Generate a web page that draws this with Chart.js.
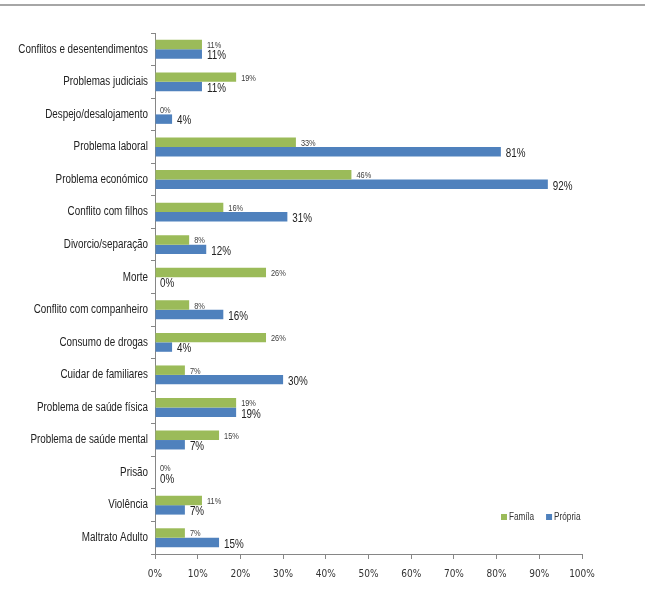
<!DOCTYPE html>
<html>
<head>
<meta charset="utf-8">
<script src="https://cdn.jsdelivr.net/npm/chart.js@4/dist/chart.umd.min.js"></script>
<style>
  html, body { margin: 0; padding: 0; background: #fff; }
  #wrap { position: relative; width: 645px; height: 594px; }
  #topline { position: absolute; left: 0; top: 4px; width: 645px; height: 2px; background: #a6a6a6; }
  canvas { position: absolute; left: 0; top: 0; }
</style>
</head>
<body>
<div id="wrap">
  <canvas id="grafico" width="645" height="594"></canvas>
  <div id="topline"></div>
</div>
<script>
// categorias de cima para baixo
const categorias = [
  "Conflitos e desentendimentos",
  "Problemas judiciais",
  "Despejo/desalojamento",
  "Problema laboral",
  "Problema económico",
  "Conflito com filhos",
  "Divorcio/separação",
  "Morte",
  "Conflito com companheiro",
  "Consumo de drogas",
  "Cuidar de familiares",
  "Problema de saúde física",
  "Problema de saúde mental",
  "Prisão",
  "Violência",
  "Maltrato Adulto"
];
const familia = [11, 19, 0, 33, 46, 16, 8, 26, 8, 26, 7, 19, 15, 0, 11, 7];
const propria = [11, 11, 4, 81, 92, 31, 12, 0, 16, 4, 30, 19, 7, 0, 7, 15];
const ticksX = [0, 10, 20, 30, 40, 50, 60, 70, 80, 90, 100];

const fonte = "'Liberation Sans', Arial, sans-serif";
const corFamilia = "#9bbb59";
const corPropria = "#4f81bd";
const aperto = 0.82; // compressão horizontal para imitar a Calibri

// escreve texto estreitado horizontalmente
function textoEstreito(ctx, txt, x, y, align) {
  ctx.save();
  ctx.translate(x, y);
  ctx.scale(aperto, 1);
  ctx.textAlign = align;
  ctx.fillText(txt, 0, 0);
  ctx.restore();
}

// nomes das categorias no eixo vertical
const rotulosY = {
  id: "rotulosY",
  afterDraw(chart) {
    const ctx = chart.ctx;
    const y = chart.scales.y;
    ctx.save();
    ctx.font = "12px " + fonte;
    ctx.fillStyle = "#222";
    ctx.textBaseline = "middle";
    categorias.forEach(function (c, i) {
      textoEstreito(ctx, c, y.right - 7, y.getPixelForValue(i), "right");
    });
    ctx.restore();
  }
};

// etiquetas de valor à direita de cada barra
const etiquetas = {
  id: "etiquetas",
  afterDatasetsDraw(chart) {
    const ctx = chart.ctx;
    ctx.save();
    ctx.textBaseline = "middle";
    chart.data.datasets.forEach(function (ds, i) {
      const meta = chart.getDatasetMeta(i);
      ctx.font = (i === 0 ? "9px " : "12px ") + fonte;
      ctx.fillStyle = i === 0 ? "#404040" : "#222";
      meta.data.forEach(function (bar, j) {
        textoEstreito(ctx, ds.data[j] + "%", bar.x + 5, bar.y + (i === 0 ? 1 : 2), "left");
      });
    });
    ctx.restore();
  }
};

// legenda dentro da área do gráfico, em baixo à direita
const legenda = {
  id: "legenda",
  afterDraw(chart) {
    const ctx = chart.ctx;
    const area = chart.chartArea;
    ctx.save();
    ctx.font = "10px " + fonte;
    ctx.textBaseline = "middle";
    let x = area.right - 81;
    const y = area.bottom - 37;
    chart.data.datasets.forEach(function (ds) {
      ctx.fillStyle = ds.backgroundColor;
      ctx.fillRect(x, y - 3, 6, 6);
      ctx.fillStyle = "#333";
      textoEstreito(ctx, ds.label, x + 8, y, "left");
      x += ctx.measureText(ds.label).width * aperto + 20;
    });
    ctx.restore();
  }
};

const ctx = document.getElementById("grafico").getContext("2d");
new Chart(ctx, {
  type: "bar",
  data: {
    labels: categorias,
    datasets: [
      { label: "Famíla", data: familia, backgroundColor: corFamilia },
      { label: "Própria", data: propria, backgroundColor: corPropria }
    ]
  },
  options: {
    indexAxis: "y",
    responsive: false,
    animation: false,
    layout: { padding: { top: 33, right: 63, left: 0, bottom: 0 } },
    datasets: { bar: { categoryPercentage: 0.58, barPercentage: 1.0 } },
    scales: {
      x: {
        min: 0,
        max: 100,
        afterBuildTicks(scale) {
          scale.ticks = ticksX.map(function (v) { return { value: v }; });
        },
        afterFit(scale) { scale.height = 40; },
        grid: { drawOnChartArea: false, drawTicks: true, tickLength: 5, color: "#868686" },
        border: { color: "#868686" },
        ticks: {
          color: "#333",
          font: { family: "'DejaVu Sans Condensed', sans-serif", size: 10 },
          padding: 9,
          maxRotation: 0,
          callback: function (v) { return v + "%"; }
        }
      },
      y: {
        afterFit(scale) { scale.width = 155; },
        grid: { drawOnChartArea: false, drawTicks: true, tickLength: 4, offset: true, color: "#868686" },
        border: { color: "#868686" },
        ticks: { display: false, autoSkip: false }
      }
    },
    plugins: {
      legend: { display: false },
      tooltip: { enabled: false }
    }
  },
  plugins: [etiquetas, legenda, rotulosY]
});
</script>
</body>
</html>
